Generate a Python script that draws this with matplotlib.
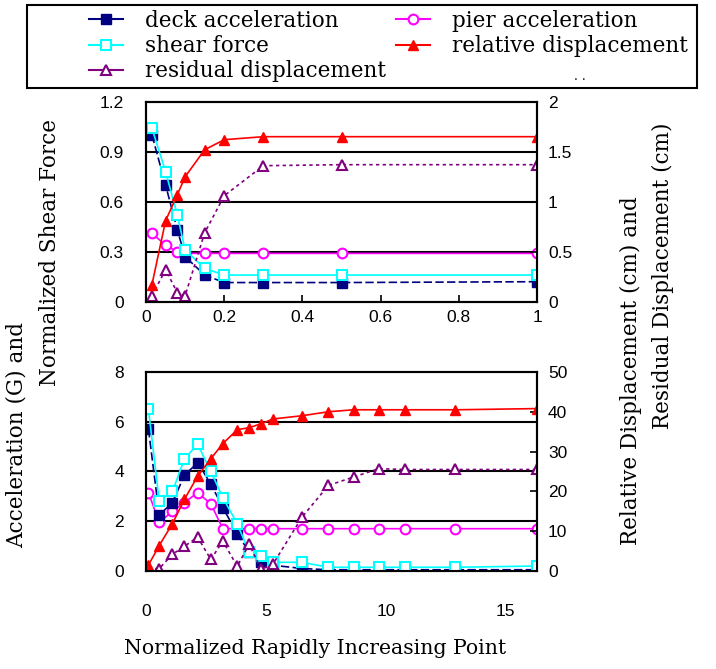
import numpy as np
import matplotlib.pyplot as plt
from matplotlib.lines import Line2D
from matplotlib.patches import Rectangle

# top panel: short range of the normalized point
top_x = [0.015, 0.05, 0.08, 0.1, 0.15, 0.2, 0.3, 0.5, 1.0]
top_deck = [1.0, 0.70, 0.43, 0.27, 0.16, 0.115, 0.115, 0.115, 0.12]
top_shear = [1.04, 0.78, 0.52, 0.31, 0.20, 0.16, 0.16, 0.16, 0.16]
top_pier = [0.41, 0.34, 0.30, 0.29, 0.29, 0.29, 0.29, 0.29, 0.29]
top_rel = [0.17, 0.81, 1.07, 1.25, 1.52, 1.62, 1.65, 1.65, 1.65]
top_res = [0.06, 0.32, 0.09, 0.06, 0.69, 1.06, 1.36, 1.37, 1.37]

# bottom panel: full range
bot_x = [0.1, 0.55, 1.1, 1.6, 2.15, 2.7, 3.2, 3.8, 4.3, 4.8, 5.3, 6.5, 7.6, 8.65, 9.7, 10.8, 12.9, 16.3]
bot_deck = [5.7, 2.25, 2.75, 3.85, 4.35, 3.5, 2.55, 1.5, 0.76, 0.36, 0.23, 0.1, 0.05, 0.05, 0.05, 0.05, 0.05, 0.05]
bot_shear = [6.5, 2.8, 3.2, 4.5, 5.1, 4.0, 2.95, 1.9, 0.75, 0.6, 0.35, 0.35, 0.15, 0.15, 0.15, 0.15, 0.15, 0.2]
bot_pier = [3.15, 1.95, 2.4, 2.75, 3.15, 2.7, 1.7, 1.7, 1.7, 1.7, 1.7, 1.7, 1.7, 1.7, 1.7, 1.7, 1.7, 1.7]
bot_rel = [1.5, 6.4, 11.9, 18, 23.8, 28.2, 32, 35.5, 36, 37, 38.2, 39, 40, 40.5, 40.5, 40.5, 40.5, 40.8]
bot_res = [0.6, 0.6, 4.2, 6.2, 8.5, 2.9, 7.5, 1.2, 6.7, 0.4, 1.8, 13.5, 21.5, 23.6, 25.7, 25.5, 25.5, 25.5]

navy, cyan, purple, magenta, red = '#000080', '#00ffff', '#800080', '#ff00ff', '#ff0000'
serif = 'DejaVu Serif'
sans = 'Liberation Sans'
ms = 7
W, H = 716, 669

fig = plt.figure(figsize=(7.16, 6.69), dpi=100)
ax1 = fig.add_axes([0.204, 0.549, 0.546, 0.299])
ax2 = fig.add_axes([0.204, 0.1465, 0.546, 0.2975])


def draw(ax, x, deck, shear, pier, rel, res):
    ax.plot(x, deck, color=navy, lw=1.2, ls=(0, (5, 2)), marker='s', ms=ms, mfc=navy, mec=navy, zorder=4)
    ax.plot(x, shear, color=cyan, lw=1.2, marker='s', ms=ms, mfc='white', mec=cyan, mew=1.5, zorder=4)
    ax.plot(x, pier, color=magenta, lw=1.2, marker='o', ms=ms, mfc='white', mec=magenta, mew=1.5, zorder=3)
    axr = ax.twinx()
    axr.plot(x, res, color=purple, lw=1.2, ls=(0, (2, 2)), marker='^', ms=ms, mfc='white', mec=purple, mew=1.5)
    axr.plot(x, rel, color=red, lw=1.2, marker='^', ms=ms, mfc=red, mec=red)
    return axr


ax1r = draw(ax1, top_x, top_deck, top_shear, top_pier, top_rel, top_res)
ax2r = draw(ax2, bot_x, bot_deck, bot_shear, bot_pier, bot_rel, bot_res)

ax1.set_xlim(0, 1)
ax1.set_ylim(0, 1.2)
ax1r.set_ylim(0, 2)
ax1.set_xticks([0, 0.2, 0.4, 0.6, 0.8, 1])
ax1.set_xticklabels(['0', '0.2', '0.4', '0.6', '0.8', '1'])
ax1.set_yticks([0, 0.3, 0.6, 0.9, 1.2])
ax1.set_yticklabels(['0', '0.3', '0.6', '0.9', '1.2'])
ax1r.set_yticks([0, 0.5, 1, 1.5, 2])
ax1r.set_yticklabels(['0', '0.5', '1', '1.5', '2'])
for v in [0.3, 0.6, 0.9]:
    ax1.axhline(v, color='black', lw=1.5, zorder=1)

ax2.set_xlim(0, 16.3)
ax2.set_ylim(0, 8)
ax2r.set_ylim(0, 50)
ax2.set_xticks([0, 5, 10, 15])
ax2.set_yticks([0, 2, 4, 6, 8])
ax2r.set_yticks([0, 10, 20, 30, 40, 50])
for v in [2, 4, 6]:
    ax2.axhline(v, color='black', lw=1.5, zorder=1)

for a in [ax1, ax2, ax1r, ax2r]:
    for s in a.spines.values():
        s.set_linewidth(1.5)
    a.tick_params(direction='in', length=5, width=1.2, labelsize=12.5)
    for lab in a.get_xticklabels() + a.get_yticklabels():
        lab.set_family(sans)
ax1.tick_params(axis='y', pad=16)
ax2.tick_params(axis='y', pad=16)
ax1.tick_params(axis='x', pad=6)
ax2.tick_params(axis='x', length=0, pad=24)
ax1r.tick_params(axis='y', pad=8)
ax2r.tick_params(axis='y', pad=8)

ax2.set_xlabel('Normalized Rapidly Increasing Point', family=serif, fontsize=14.7, labelpad=15)
ax2.xaxis.set_label_coords(0.432, -0.34)

fig.text(17 / W, 1 - 435 / H, 'Acceleration (G) and', rotation=90, family=serif,
         fontsize=15.5, ha='center', va='center')
fig.text(50 / W, 1 - 252 / H, 'Normalized Shear Force', rotation=90, family=serif,
         fontsize=15.5, ha='center', va='center')
fig.text(631 / W, 1 - 371 / H, 'Relative Displacement (cm) and', rotation=90, family=serif,
         fontsize=15.5, ha='center', va='center')
fig.text(663 / W, 1 - 276 / H, 'Residual Displacement (cm)', rotation=90, family=serif,
         fontsize=15.5, ha='center', va='center')

handles = [
    Line2D([], [], color=navy, lw=1.5, marker='s', ms=ms, mfc=navy, mec=navy),
    Line2D([], [], color=cyan, lw=1.5, marker='s', ms=ms, mfc='white', mec=cyan, mew=1.5),
    Line2D([], [], color=purple, lw=1.5, marker='^', ms=ms, mfc='white', mec=purple, mew=1.5),
    Line2D([], [], color=magenta, lw=1.5, marker='o', ms=ms, mfc='white', mec=magenta, mew=1.5),
    Line2D([], [], color=red, lw=1.5, marker='^', ms=ms, mfc=red, mec=red),
]
labels = ['deck acceleration', 'shear force', 'residual displacement',
          'pier acceleration', 'relative displacement']
fig.patches.append(Rectangle((27 / W, 1 - 88 / H), 670 / W, 83 / H, transform=fig.transFigure,
                             fill=False, edgecolor='black', lw=1.5))
leg = fig.legend(handles, labels, ncol=2, loc='upper left',
                 bbox_to_anchor=(89 / W, 1 - 10 / H),
                 prop={'family': serif, 'size': 15.5}, handlelength=1.6, handletextpad=1.0,
                 labelspacing=0.15, borderpad=0, borderaxespad=0, frameon=False,
                 columnspacing=0.45)
fig.text(580 / W, 1 - 77 / H, '. .', family=serif, fontsize=9, ha='center', va='center')

fig.savefig('out.png', dpi=100)
